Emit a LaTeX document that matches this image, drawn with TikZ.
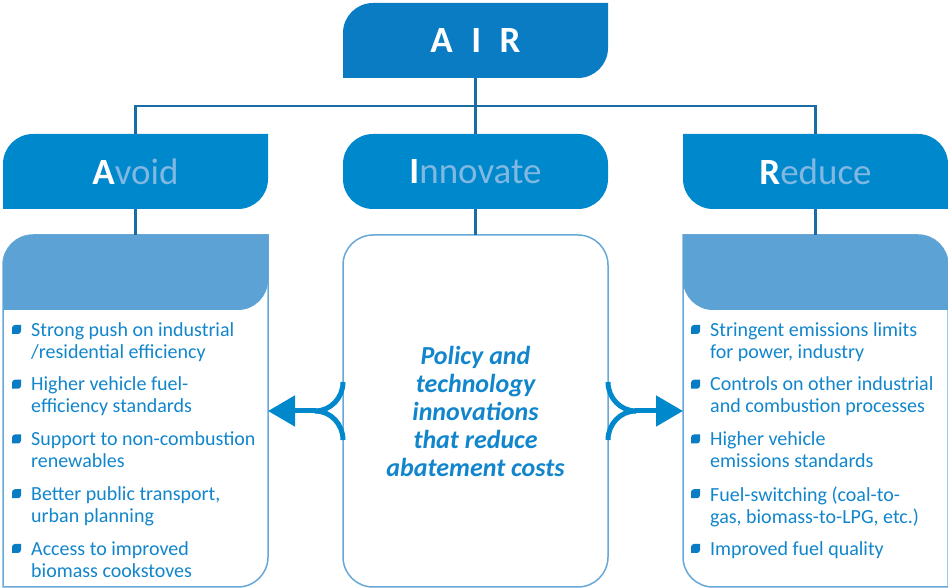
\documentclass[tikz,border=0pt]{standalone}
\usepackage{fontspec}
\setmainfont{Carlito}
\usetikzlibrary{positioning,arrows.meta,backgrounds}

\definecolor{airblue}{RGB}{10,124,196}
\definecolor{boxblue}{RGB}{0,136,204}
\definecolor{headblue}{RGB}{92,162,212}
\definecolor{edgeblue}{RGB}{104,168,216}
\definecolor{lineblue}{RGB}{26,108,164}
\definecolor{textblue}{RGB}{18,134,204}
\definecolor{paleblue}{RGB}{128,184,226}

% leaf outlines: round top left + bottom right (l) or top right + bottom left (r)
\newcommand{\leafl}[2]{(#1.south west) -- ([yshift=-#2]#1.north west) arc[start angle=180,end angle=90,radius=#2] -- (#1.north east) -- ([yshift=#2]#1.south east) arc[start angle=0,end angle=-90,radius=#2] -- cycle}
\newcommand{\leafr}[2]{(#1.south east) -- ([yshift=-#2]#1.north east) arc[start angle=0,end angle=90,radius=#2] -- (#1.north west) -- ([yshift=#2]#1.south west) arc[start angle=180,end angle=270,radius=#2] -- cycle}

\begin{document}
\begin{tikzpicture}[x=1pt,y=1pt,node distance=75pt,
  box/.style={minimum width=265pt,minimum height=75pt,inner sep=0pt,outer sep=0pt,text=white,font=\fontsize{37}{40}\selectfont},
  panel/.style={minimum width=265pt,minimum height=352pt,inner sep=0pt,outer sep=0pt},
  head/.style={minimum width=265pt,minimum height=75pt,inner sep=0pt,outer sep=0pt},
  item/.style={anchor=north west,align=left,inner sep=0pt,text=textblue,font=\fontsize{20}{22}\selectfont},
  dot/.style={minimum size=9pt,inner sep=0pt,outer sep=0pt},
  tree/.style={draw=lineblue,line width=2.2pt},
  fork/.style={draw=boxblue,line width=5pt}]

  \useasboundingbox (0,0) rectangle (948,588);

  \node[box] (avoid) at (135.5,416.5) {\textbf{A}\textcolor{paleblue}{void}};
  \node[box,fill=boxblue,rounded corners=30pt,right=of avoid] (innov) {\textbf{I}\textcolor{paleblue}{nnovate}};
  \node[box,right=of innov] (reduce) {\textbf{R}\textcolor{paleblue}{educe}};
  \node[box,above=56pt of innov,font=\bfseries\fontsize{37}{40}\selectfont] (air) {A\hspace{.5em}I\hspace{.5em}R};

  \node[panel,below=26pt of avoid] (apanel) {};
  \node[panel,below=26pt of innov,draw=edgeblue,line width=1.5pt,fill=white,rounded corners=30pt,
    text=textblue,align=center,font=\bfseries\itshape\fontsize{26}{28}\selectfont] (ipanel)
    {Policy and\\technology\\innovations\\that reduce\\abatement costs};
  \node[panel,below=26pt of reduce] (rpanel) {};
  \node[head,anchor=north] (ahead) at (apanel.north) {};
  \node[head,anchor=north] (rhead) at (rpanel.north) {};

  % bullet lists
  \foreach \txt [count=\i] in {{Strong push on industrial\\/residential efficiency},
      {Higher vehicle fuel-\\efficiency standards},
      {Support to non-combustion\\renewables},
      {Better public transport,\\urban planning},
      {Access to improved\\biomass cookstoves}} {
    \node[item] (a\i) at (31,{266-54.75*(\i-1)}) {\txt};
    \node[dot] (ab\i) at (16.5,{258.5-54.75*(\i-1)}) {};
  }
  \foreach \txt [count=\i] in {{Stringent emissions limits\\for power, industry},
      {Controls on other industrial\\and combustion processes},
      {Higher vehicle\\emissions standards},
      {Fuel-switching (coal-to-\\gas, biomass-to-LPG, etc.)},
      {Improved fuel quality}} {
    \node[item] (r\i) at (710,{266-54.75*(\i-1)}) {\txt};
    \node[dot] (rb\i) at (695.5,{258.5-54.75*(\i-1)}) {};
  }

  \begin{scope}[on background layer]
    \fill[airblue] \leafl{air}{30pt};
    \fill[boxblue] \leafl{avoid}{30pt};
    \fill[boxblue] \leafr{reduce}{30pt};
    \filldraw[fill=white,draw=edgeblue,line width=1.5pt] \leafl{apanel}{30pt};
    \filldraw[fill=white,draw=edgeblue,line width=1.5pt] \leafr{rpanel}{30pt};
    \fill[headblue] \leafl{ahead}{30pt};
    \fill[headblue] \leafr{rhead}{30pt};
    \foreach \i in {1,...,5} {
      \fill[airblue] \leafl{ab\i}{3pt};
      \fill[airblue] \leafl{rb\i}{3pt};
    }
  \end{scope}

  % tree
  \draw[tree] (air) -- (innov);
  \draw[tree] (avoid.north) -- ++(0,28pt) -| (reduce.north);
  \draw[tree] (avoid) -- (apanel);
  \draw[tree] (innov) -- (ipanel);
  \draw[tree] (reduce) -- (rpanel);

  % forks
  \coordinate (lj) at ([xshift=-28pt]ipanel.west);
  \coordinate (rj) at ([xshift=28pt]ipanel.east);
  \draw[fork] ([yshift=29pt]ipanel.west) to[out=-90,in=0] (lj);
  \draw[fork] ([yshift=-29pt]ipanel.west) to[out=90,in=0] (lj);
  \draw[fork,-{Triangle[length=27pt,width=30pt]}] ([xshift=1pt]lj) -- (apanel.east);
  \draw[fork] ([yshift=29pt]ipanel.east) to[out=-90,in=180] (rj);
  \draw[fork] ([yshift=-29pt]ipanel.east) to[out=90,in=180] (rj);
  \draw[fork,-{Triangle[length=27pt,width=30pt]}] ([xshift=-1pt]rj) -- (rpanel.west);
\end{tikzpicture}
\end{document}
